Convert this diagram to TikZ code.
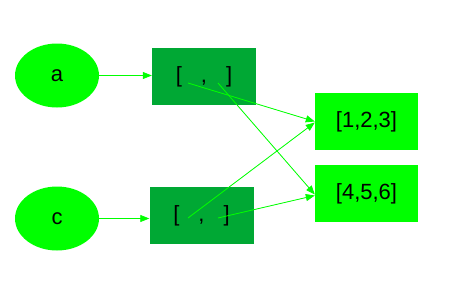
\documentclass[tikz,border=0pt]{standalone}
\usepackage{fontspec}
\setmainfont{Liberation Sans}
\usepackage{xcolor}
\usetikzlibrary{arrows.meta,positioning,shapes.geometric}
\definecolor{vivid}{HTML}{00FF00}
\definecolor{deep}{HTML}{00A834}

\begin{document}
\begin{tikzpicture}[x=1pt, y=-1pt, >={Triangle[length=9pt,width=7pt]}, every node/.style={font=\fontsize{22}{26}\selectfont}, leaf/.style={ellipse,fill=vivid,minimum width=84pt,minimum height=64pt,inner sep=0pt}, cell/.style={rectangle,fill=deep,minimum width=104pt,minimum height=57pt,inner sep=0pt}, val/.style={rectangle,fill=vivid,minimum width=103pt,minimum height=57pt,inner sep=0pt}, line/.style={->,draw=vivid,fill=vivid,line width=0.8pt}]
\useasboundingbox (0,0) rectangle (450,300);
\node[leaf] (a) at (57,75.5) {a};
\node[leaf] (c) at (57,218.5) {c};
\node[cell] (pa) at (204,76.5) {[\hspace{19pt},\hspace{19pt}]};
\node[cell] (pc) at (201.5,215.5) {[\hspace{19pt},\hspace{19pt}]};
\node[val] (v123) at (366.5,121.5) {[1,2,3]};
\node[val] (v456) at (366.5,193.5) {[4,5,6]};
% field ports inside the pair boxes
\coordinate (pa1) at ([xshift=-16pt,yshift=-6.5pt]pa.center);
\coordinate (pa2) at ([xshift=14pt,yshift=-6.5pt]pa.center);
\coordinate (pc1) at ([xshift=-13.5pt,yshift=-2.5pt]pc.center);
\coordinate (pc2) at ([xshift=16.5pt,yshift=-2.5pt]pc.center);
\draw[line] (a) -- (a -| pa.west); \draw[line] (c) -- (c -| pc.west);
\draw[line] (pa1) -- (v123.west); \draw[line] (pa2) -- ([yshift=-1pt]v456.west);
\draw[line] (pc1) -- ([yshift=-1pt]v123.west); \draw[line] (pc2) -- ([yshift=-2pt]v456.west);
\end{tikzpicture}
\end{document}
